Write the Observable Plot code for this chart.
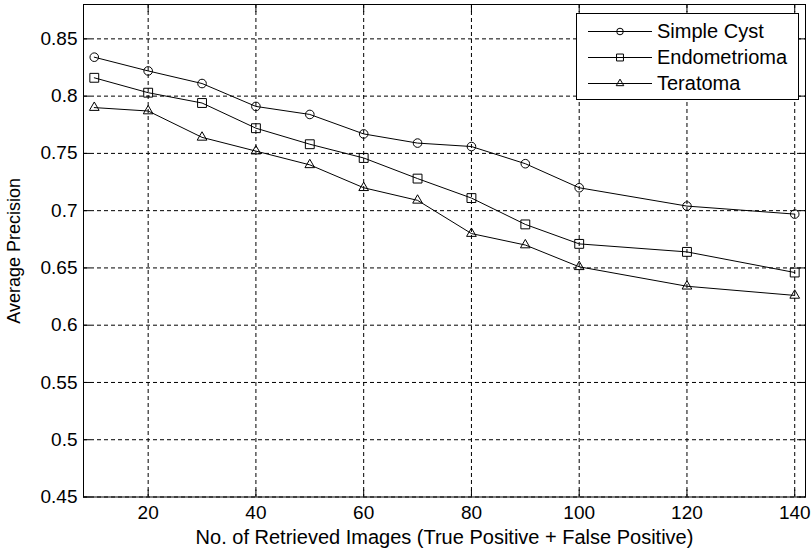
<!DOCTYPE html>
<html><head><meta charset="utf-8">
<script src="https://cdn.jsdelivr.net/npm/d3@7"></script>
<script src="https://cdn.jsdelivr.net/npm/@observablehq/plot@0.6"></script>
<style>body{margin:0;background:#fff}</style>
</head><body><div id="chart"></div>
<script>
const retrieved = [10, 20, 30, 40, 50, 60, 70, 80, 90, 100, 120, 140];
const simpleCyst = [0.834, 0.822, 0.811, 0.791, 0.784, 0.767, 0.759, 0.756, 0.741, 0.720, 0.704, 0.697];
const endometrioma = [0.816, 0.803, 0.794, 0.772, 0.758, 0.746, 0.728, 0.711, 0.688, 0.671, 0.664, 0.646];
const teratoma = [0.790, 0.787, 0.764, 0.752, 0.740, 0.720, 0.709, 0.680, 0.670, 0.651, 0.634, 0.626];
const seriesNames = ["Simple Cyst", "Endometrioma", "Teratoma"];
const seriesSymbols = ["circle", "square", "triangle"];
const xTicks = [20, 40, 60, 80, 100, 120, 140];
const yTicks = [0.45, 0.5, 0.55, 0.6, 0.65, 0.7, 0.75, 0.8, 0.85];
const yTickLabels = ["0.45", "0.5", "0.55", "0.6", "0.65", "0.7", "0.75", "0.8", "0.85"];
const xLabel = "No. of Retrieved Images (True Positive + False Positive)";
const yLabel = "Average Precision";

(function () {
const seriesValues = [simpleCyst, endometrioma, teratoma];
const data = seriesNames.flatMap((name, s) =>
  retrieved.map((x, i) => ({series: name, symbol: seriesSymbols[s], x, y: seriesValues[s][i]})));

const dotR = {circle: 4.3, square: 5, triangle: 3.6};
const font = "'Liberation Sans', Arial, sans-serif";
const noText = () => "";

const chart = Plot.plot({
  width: 812, height: 551,
  marginLeft: 83, marginRight: 7, marginTop: 4, marginBottom: 54.5,
  x: {domain: [8, 142]},
  y: {domain: [0.45, 0.88]},
  style: {fontFamily: font, fontSize: "19px", color: "#000", background: "#fff", overflow: "visible"},
  marks: [
    Plot.gridX(xTicks, {stroke: "#000", strokeOpacity: 1, strokeDasharray: "4,3"}),
    Plot.gridY(yTicks, {stroke: "#000", strokeOpacity: 1, strokeDasharray: "4,3"}),
    Plot.line(data, {x: "x", y: "y", z: "series", stroke: "#000", strokeWidth: 1}),
    ...seriesSymbols.map(sym => Plot.dot(data.filter(d => d.symbol === sym),
      {x: "x", y: "y", symbol: sym, r: dotR[sym], stroke: "#000", fill: "none", strokeWidth: 1})),
    Plot.frame({stroke: "#000", strokeWidth: 1}),
    Plot.axisX({anchor: "bottom", ticks: xTicks, tickSize: -7, tickFormat: noText, label: null, stroke: "#000"}),
    Plot.axisX({anchor: "top", ticks: xTicks, tickSize: -7, tickFormat: noText, label: null, stroke: "#000"}),
    Plot.axisY({anchor: "left", ticks: yTicks, tickSize: -7, tickFormat: noText, label: null, stroke: "#000"}),
    Plot.axisY({anchor: "right", ticks: yTicks, tickSize: -7, tickFormat: noText, label: null, stroke: "#000"}),
    Plot.axisX({anchor: "bottom", ticks: xTicks, tickSize: 0, tickPadding: 8, fontSize: 19, label: null, fill: "#000"}),
    Plot.axisY({anchor: "left", ticks: yTicks, tickFormat: (d) => yTickLabels[yTicks.indexOf(d)], tickSize: 0, tickPadding: 6, fontSize: 19, label: null, fill: "#000"}),
    Plot.text([xLabel], {text: d => d, frameAnchor: "bottom", lineAnchor: "middle", textAnchor: "middle", dy: 40.5, fontSize: 20, fill: "#000"}),
    Plot.text([yLabel], {text: d => d, frameAnchor: "left", lineAnchor: "middle", textAnchor: "middle", dx: -69, rotate: -90, fontSize: 18, fill: "#000"})
  ]
});

// Legend (MATLAB style box in the top-right corner of the axes)
const svg = d3.select(chart);
const xr = chart.scale("x").range, yr = chart.scale("y").range;
const frameRight = Math.max(...xr), frameTop = Math.min(...yr);
const legW = 222, legH = 86, rowH = 26;
const lx = frameRight - 7 - legW, ly = frameTop + 9;
const g = svg.append("g").attr("font-family", font).attr("font-size", 20).attr("text-anchor", "start");
g.append("rect").attr("x", lx + 0.5).attr("y", ly + 0.5).attr("width", legW).attr("height", legH)
  .attr("fill", "#fff").attr("stroke", "#000");
const legR = {circle: 3.3, square: 3.9, triangle: 2.8};
seriesNames.forEach((name, i) => {
  const cy = ly + 18 + i * rowH;
  g.append("line").attr("x1", lx + 12).attr("x2", lx + 76).attr("y1", cy + 0.5).attr("y2", cy + 0.5).attr("stroke", "#000");
  const sym = {circle: d3.symbolCircle, square: d3.symbolSquare, triangle: d3.symbolTriangle}[seriesSymbols[i]];
  const r = legR[seriesSymbols[i]];
  g.append("path").attr("transform", `translate(${lx + 44},${cy + 0.5})`)
    .attr("d", d3.symbol(sym, Math.PI * r * r)()).attr("fill", "none").attr("stroke", "#000");
  g.append("text").attr("x", lx + 81).attr("y", cy).attr("dy", "0.35em").attr("fill", "#000")
    .attr("text-anchor", "start").text(name);
});

document.getElementById("chart").appendChild(chart);
})();
</script>
</body></html>
